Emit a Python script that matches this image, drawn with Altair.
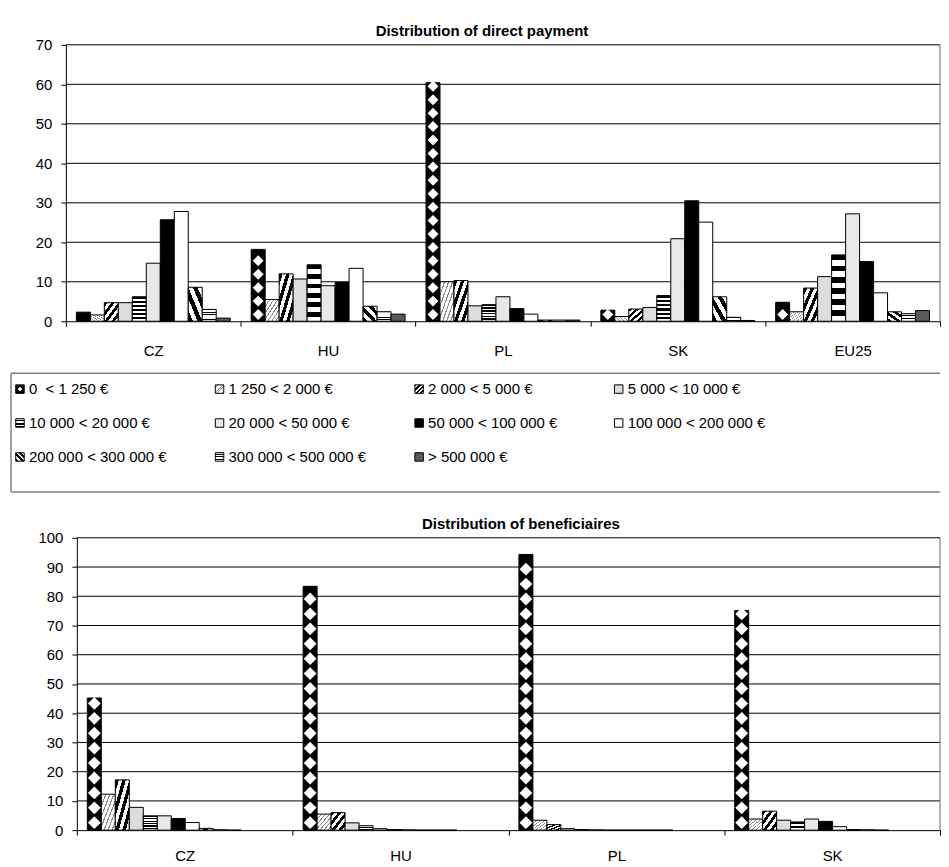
import altair as alt
import pandas as pd

FONT = "Liberation Sans"

size_classes = [
    "0\u00a0 < 1 250 €", "1 250 < 2 000 €", "2 000 < 5 000 €", "5 000 < 10 000 €",
    "10 000 < 20 000 €", "20 000 < 50 000 €", "50 000 < 100 000 €",
    "100 000 < 200 000 €", "200 000 < 300 000 €", "300 000 < 500 000 €", "> 500 000 €",
]

payment_countries = ["CZ", "HU", "PL", "SK", "EU25"]
payment_cz = [2.3, 1.6, 4.7, 4.7, 6.2, 14.7, 25.7, 27.8, 8.6, 3.0, 0.8]
payment_hu = [18.2, 5.5, 12.0, 10.7, 14.3, 9.0, 9.8, 13.4, 3.8, 2.4, 1.8]
payment_pl = [60.4, 10.0, 10.3, 3.9, 4.2, 6.2, 3.2, 1.8, 0.3, 0.3, 0.3]
payment_sk = [2.8, 1.2, 3.1, 3.5, 6.5, 20.9, 30.5, 25.1, 6.2, 1.0, 0.2]
payment_eu25 = [4.8, 2.4, 8.4, 11.3, 16.8, 27.2, 15.1, 7.2, 2.4, 1.9, 2.7]
payment_ticks = [0, 10, 20, 30, 40, 50, 60, 70]

benef_countries = ["CZ", "HU", "PL", "SK"]
benef_cz = [45.2, 12.3, 17.2, 7.8, 4.9, 4.9, 4.0, 2.6, 0.6, 0.1, 0.0]
benef_hu = [83.4, 5.5, 6.0, 2.5, 1.5, 0.5, 0.2, 0.1, 0.0, 0.0, 0.0]
benef_pl = [94.3, 3.4, 1.9, 0.5, 0.2, 0.1, 0.0, 0.0, 0.0, 0.0, 0.0]
benef_sk = [75.1, 3.8, 6.5, 3.4, 2.8, 3.8, 3.0, 1.2, 0.2, 0.1, 0.0]
benef_ticks = [0, 10, 20, 30, 40, 50, 60, 70, 80, 90, 100]


def stripes(fg, bg, n, frac, x1, y1, x2, y2):
    stops = []
    for i in range(n):
        a = round(i / n, 4)
        b = round((i + frac) / n, 4)
        c = round((i + 1) / n, 4)
        stops += [{"offset": a, "color": fg}, {"offset": b, "color": fg},
                  {"offset": b, "color": bg}, {"offset": c, "color": bg}]
    return {"gradient": "linear", "x1": x1, "y1": y1, "x2": x2, "y2": y2, "stops": stops}


fills = [
    "black",
    stripes("#8a8a8a", "white", 7, 0.3, 0, 0, 1, 1),
    stripes("black", "white", 4, 0.5, 0, 0, 1, 1),
    "#dcdcdc",
    stripes("black", "white", 6, 0.5, 0, 0, 0, 1),
    "#e8e8e8",
    "black",
    "white",
    stripes("black", "white", 3, 0.5, 0, 1, 1, 0),
    stripes("black", "white", 5, 0.35, 0, 0, 0, 1),
    "#5a5a5a",
]
fill_enc = {
    "condition": [{"test": f"datum.k === {i}", "value": fills[i]} for i in range(1, 11)],
    "value": fills[0],
}


def long_df(countries, series):
    rows = []
    for c, vals in zip(countries, series):
        for k, (cls, v) in enumerate(zip(size_classes, vals)):
            rows.append({"country": c, "cls": cls, "k": k, "value": v})
    return pd.DataFrame(rows)


def diamond_df(countries, series, step, r):
    rows = []
    for c, vals in zip(countries, series):
        v = vals[0]
        y = step / 2
        while y + r * 0.5 <= v:
            rows.append({"country": c, "cls": size_classes[0], "k": 0, "value": y})
            y += step
    return pd.DataFrame(rows)


def bar_chart(df, ddf, countries, ticks, width, height, inset, po, title, dx,
              label_pad, dsize):
    ymax = ticks[-1]
    x = alt.X("country:N", sort=countries,
              scale=alt.Scale(domain=countries, paddingInner=0, paddingOuter=0,
                              range=[inset, width]),
              axis=alt.Axis(title=None, labelAngle=0, tickBand="extent", tickSize=5,
                            labelPadding=label_pad, grid=False))
    xo = alt.XOffset("cls:N", sort=size_classes,
                     scale=alt.Scale(domain=size_classes, paddingInner=0, paddingOuter=po))
    y = alt.Y("value:Q", scale=alt.Scale(domain=[0, ymax], nice=False, zero=True),
              axis=alt.Axis(title=None, values=ticks, tickSize=5, labelPadding=9,
                            grid=False, offset=-inset))
    grid = alt.Chart(pd.DataFrame({"value": ticks[1:]})).mark_rule(
        color="black", strokeWidth=1).encode(
        x=alt.value(inset), x2=alt.value(width), y=y)
    right = alt.Chart(pd.DataFrame({"value": [0]})).mark_rule(
        color="#666666", strokeWidth=1).encode(
        x=alt.value(width), y=alt.value(0), y2=alt.value(height))
    bars = alt.Chart(df).mark_bar(stroke="black", strokeWidth=1).encode(
        x=x, xOffset=xo, y=y, fill=fill_enc)
    dia = alt.Chart(ddf).mark_point(shape="diamond", filled=True, opacity=1, size=dsize,
                                    strokeWidth=0, color="white").encode(x=x, xOffset=xo, y=y)
    return alt.layer(grid, right, bars, dia).properties(
        width=width, height=height,
        title=alt.TitleParams(text=title, font=FONT, fontSize=15, fontWeight="bold",
                              color="black", offset=-1, dx=dx, anchor="middle"),
    )


pay_series = [payment_cz, payment_hu, payment_pl, payment_sk, payment_eu25]
ben_series = [benef_cz, benef_hu, benef_pl, benef_sk]

top = bar_chart(long_df(payment_countries, pay_series),
                diamond_df(payment_countries, pay_series, 3.4, 1.45),
                payment_countries, payment_ticks, 876, 277, 0, 0.75,
                "Distribution of direct payment", -21, 17, 120)

bottom = bar_chart(long_df(benef_countries, ben_series),
                   diamond_df(benef_countries, ben_series, 5.1, 2.2),
                   benef_countries, benef_ticks, 876, 293, 11, 0.77,
                   "Distribution of beneficiaires", 18, 13, 165)

# legend (drawn partly left of its view origin so it starts at the page edge)
LEFT = -55
leg_df = pd.DataFrame({
    "label": size_classes,
    "k": list(range(11)),
    "col": [k % 4 for k in range(11)],
    "row": [k // 4 for k in range(11)],
})
lx = alt.X("col:Q", scale=alt.Scale(domain=[0, 3], range=[LEFT + 9, LEFT + 609]), axis=None)
ly = alt.Y("row:Q", scale=alt.Scale(domain=[0, 2], range=[16, 84]), axis=None)

one = alt.Chart(pd.DataFrame({"z": [0]}))
box_top = one.mark_rule(color="#808080", strokeWidth=1.5).encode(
    x=alt.value(LEFT), x2=alt.value(876), y=alt.value(0))
box_bot = one.mark_rule(color="#808080", strokeWidth=1.5).encode(
    x=alt.value(LEFT), x2=alt.value(876), y=alt.value(119))
box_left = one.mark_rule(color="#808080", strokeWidth=1.5).encode(
    x=alt.value(LEFT), y=alt.value(0), y2=alt.value(119))

sym = alt.Chart(leg_df).mark_point(shape="square", size=72, filled=True, opacity=1,
                                   stroke="black", strokeWidth=1).encode(
    x=lx, y=ly, fill=fill_enc)
sym_dia = alt.Chart(leg_df).transform_filter("datum.k === 0").mark_point(
    shape="diamond", size=22, filled=True, opacity=1, color="white", strokeWidth=0).encode(
    x=lx, y=ly)
txt = alt.Chart(leg_df).mark_text(align="left", baseline="middle", dx=9, fontSize=15,
                                  font=FONT, color="black").encode(
    x=lx, y=ly, text="label:N")

legend = alt.layer(box_top, box_bot, box_left, sym, sym_dia, txt).properties(
    width=876, height=130)

chart = alt.vconcat(top, legend, bottom, spacing=14).properties(
    padding={"left": 2, "top": 15, "right": 0, "bottom": 0},
    background="white",
).configure_view(strokeWidth=0).configure_axis(
    labelFont=FONT, labelFontSize=15, labelColor="black",
    domainColor="black", tickColor="black",
    domainWidth=1, tickWidth=1,
)

chart.save("out.html", embed_options={"renderer": "svg", "actions": False})
